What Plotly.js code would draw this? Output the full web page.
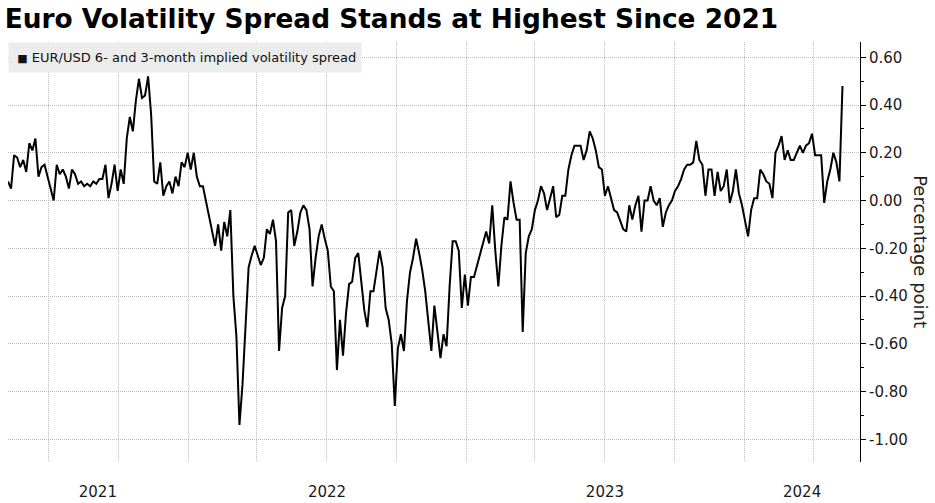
<!DOCTYPE html>
<html>
<head>
<meta charset="utf-8">
<script src="https://cdn.plot.ly/plotly-3.0.1.min.js"></script>
<style>
  html, body { margin: 0; padding: 0; background: #fff; }
  #chart { width: 935px; height: 503px; }
</style>
</head>
<body>
<div id="chart"></div>
<script>
// EUR/USD 6m minus 3m implied vol spread, every 4 days from startDate
const startDate = '2021-05-09';
const stepDays = 4;
const spreadValues = [
  0.08, 0.05, 0.19, 0.18, 0.14, 0.17, 0.12, 0.24, 0.21, 0.26,
  0.10, 0.14, 0.15, 0.10, 0.04, 0.00, 0.15, 0.11, 0.13, 0.10,
  0.05, 0.13, 0.11, 0.07, 0.08, 0.06, 0.07, 0.06, 0.08, 0.07,
  0.09, 0.09, 0.15, 0.01, 0.07, 0.15, 0.04, 0.13, 0.07, 0.26,
  0.35, 0.29, 0.42, 0.51, 0.43, 0.44, 0.52, 0.36, 0.08, 0.07,
  0.16, 0.02, 0.06, 0.08, 0.03, 0.10, 0.06, 0.16, 0.14, 0.20,
  0.13, 0.20, 0.10, 0.06, 0.06, 0.00, -0.06, -0.13, -0.19, -0.10,
  -0.21, -0.09, -0.15, -0.04, -0.40, -0.57, -0.94, -0.77, -0.50, -0.28,
  -0.23, -0.19, -0.23, -0.27, -0.24, -0.12, -0.14, -0.08, -0.17, -0.63,
  -0.45, -0.40, -0.05, -0.04, -0.19, -0.13, -0.05, -0.02, -0.04, -0.12,
  -0.36, -0.24, -0.15, -0.10, -0.16, -0.21, -0.36, -0.38, -0.71, -0.50,
  -0.65, -0.47, -0.35, -0.34, -0.24, -0.22, -0.34, -0.46, -0.53, -0.38,
  -0.38, -0.29, -0.21, -0.28, -0.45, -0.50, -0.60, -0.86, -0.62, -0.56,
  -0.63, -0.42, -0.30, -0.24, -0.16, -0.22, -0.29, -0.38, -0.51, -0.63,
  -0.44, -0.55, -0.66, -0.56, -0.61, -0.36, -0.17, -0.17, -0.21, -0.45,
  -0.31, -0.44, -0.32, -0.32, -0.27, -0.22, -0.18, -0.13, -0.18, -0.02,
  -0.21, -0.36, -0.19, -0.07, -0.08, 0.08, -0.01, -0.08, -0.08, -0.55,
  -0.22, -0.15, -0.12, -0.04, 0.00, 0.06, 0.03, -0.04, 0.01, 0.06,
  -0.07, -0.06, 0.02, 0.02, 0.13, 0.19, 0.23, 0.23, 0.23, 0.17,
  0.21, 0.29, 0.26, 0.21, 0.14, 0.13, 0.02, 0.06, 0.01, -0.04,
  -0.05, -0.09, -0.12, -0.13, -0.02, -0.08, -0.02, 0.02, -0.13, 0.00,
  0.00, 0.06, 0.00, -0.02, 0.01, -0.11, -0.05, -0.02, 0.00, 0.04,
  0.06, 0.09, 0.13, 0.15, 0.15, 0.16, 0.25, 0.17, 0.15, 0.02,
  0.13, 0.13, 0.02, 0.12, 0.04, 0.06, 0.13, -0.01, 0.04, 0.13,
  0.03, -0.02, -0.08, -0.15, -0.04, 0.01, 0.01, 0.13, 0.11, 0.08,
  0.07, 0.01, 0.20, 0.23, 0.27, 0.17, 0.21, 0.17, 0.17, 0.20,
  0.23, 0.20, 0.23, 0.24, 0.28, 0.19, 0.19, 0.19, -0.01, 0.08,
  0.13, 0.20, 0.16, 0.08, 0.48
];

const yearLabels = ['2021', '2022', '2023', '2024'];
// centre of the visible part of each year
const yearLabelDates = ['2021-09-04', '2022-07-02', '2023-07-02', '2024-03-17'];
const yTickVals = [0.6, 0.4, 0.2, 0, -0.2, -0.4, -0.6, -0.8, -1.0];
const yTickText = ['0.60', '0.40', '0.20', '0.00', '-0.20', '-0.40', '-0.60', '-0.80', '-1.00'];
const seriesName = 'EUR/USD 6- and 3-month implied volatility spread';

function sampleDates(start, step, n) {
  const t0 = Date.parse(start + 'T00:00:00Z');
  const out = [];
  for (let i = 0; i < n; i++) {
    out.push(new Date(t0 + i * step * 86400000).toISOString().slice(0, 10));
  }
  return out;
}
const dates = sampleDates(startDate, stepDays, spreadValues.length);

const font = 'DejaVu Sans, sans-serif';
const gridColor = '#bdbdbd';

Plotly.newPlot('chart', [{
  x: dates,
  y: spreadValues,
  type: 'scatter',
  mode: 'lines',
  name: seriesName,
  line: { color: '#000000', width: 2 },
  showlegend: false,
}], {
  width: 935,
  height: 503,
  margin: { l: 8, r: 75, t: 42, b: 41 },
  paper_bgcolor: '#ffffff',
  plot_bgcolor: '#ffffff',
  font: { family: font, color: '#1a1a1a', size: 15 },
  title: {
    text: 'Euro Volatility Spread Stands at Highest Since 2021',
    font: { family: font, size: 26.4, weight: 700, color: '#000000' },
    x: 0.005, xref: 'container', xanchor: 'left',
    y: 0.962, yref: 'container', yanchor: 'middle',
  },
  xaxis: {
    type: 'date',
    range: ['2021-05-09', '2024-06-01'],
    tickmode: 'array',
    tickvals: yearLabelDates,
    ticktext: yearLabels,
    showgrid: false,
    zeroline: false,
    showline: false,
    ticks: '',
    ticklabelstandoff: 19,
    tickfont: { size: 15 },
    minor: {
      tickmode: 'linear', tick0: '2021-01-01', dtick: 'M3',
      showgrid: true, gridcolor: gridColor, griddash: '1px,1px', gridwidth: 1, ticks: '',
    },
  },
  yaxis: {
    side: 'right',
    range: [-1.095, 0.664],
    tickmode: 'array',
    tickvals: yTickVals,
    ticktext: yTickText,
    showgrid: true,
    gridcolor: gridColor,
    griddash: '1px,1px',
    zeroline: false,
    showline: true,
    linecolor: '#000000',
    linewidth: 1,
    ticks: 'outside',
    ticklen: 5,
    tickcolor: '#000000',
    minor: { tickmode: 'linear', tick0: 0.1, dtick: 0.2, ticks: 'outside', ticklen: 3, tickcolor: '#000000', showgrid: false },
  },
  annotations: [
    {
      text: '&nbsp;&nbsp;<span style="font-size:11px">■</span>&nbsp;' + seriesName,
      xref: 'paper', yref: 'paper', x: 0, y: 1, xanchor: 'left', yanchor: 'top',
      width: 352, height: 29, align: 'left', valign: 'middle',
      bgcolor: '#ececec', borderpad: 0, showarrow: false,
      font: { family: font, size: 13, color: '#111111' },
    },
    {
      text: 'Percentage point',
      xref: 'paper', yref: 'paper', x: 1.0716, y: 0.502, xanchor: 'center', yanchor: 'middle',
      textangle: 90, showarrow: false,
      font: { family: font, size: 18, color: '#222222' },
    },
  ],
}, { displayModeBar: false, staticPlot: true });
</script>
</body>
</html>
